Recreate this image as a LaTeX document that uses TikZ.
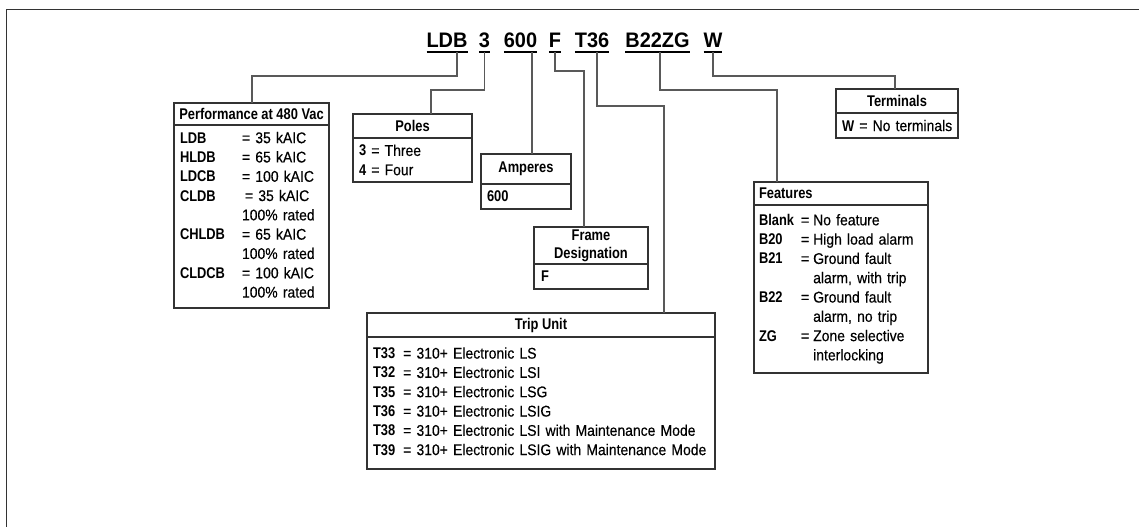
\documentclass[tikz,border=0pt]{standalone}
\usepackage{fontspec}
\setmainfont{Liberation Sans}[UprightFeatures={FakeStretch=0.9,FakeBold=0.3},BoldFeatures={FakeStretch=0.83}]
\newfontfamily\codefont{Liberation Sans}[BoldFeatures={FakeStretch=0.95}]
\usetikzlibrary{positioning}
\colorlet{boxline}{black!80}
\colorlet{linkline}{black!65}

\begin{document}
\begin{tikzpicture}[x=1pt, y=1pt, line width=1.1pt,
  every node/.style={inner sep=0pt, outer sep=0pt},
  hd/.style={draw=boxline, anchor=north west, align=center,
    font=\fontsize{15.5}{18}\selectfont\bfseries},
  bd/.style={draw=boxline, below=0pt of #1, align=left, inner xsep=6pt,
    font=\fontsize{15.5}{19.3}\selectfont},
  code/.style={anchor=base, text depth=4pt,
    font=\codefont\bfseries\fontsize{21}{24}\selectfont},
  link/.style={draw=linkline}]
  \useasboundingbox (0,0) rectangle (1139,-527);
  \draw[boxline, line width=1.3pt] (1139,-9.5) -- (6.5,-9.5) -- (6.5,-527);

  % catalog number
  \node[code] (cLDB)   at (447,-48)   {LDB};
  \node[code] (c3)     at (484.5,-48) {3};
  \node[code] (c600)   at (520.5,-48) {600};
  \node[code] (cF)     at (555,-48)   {F};
  \node[code] (cT36)   at (592,-48)   {T36};
  \node[code] (cB22ZG) at (657.5,-48) {B22ZG};
  \node[code] (cW)     at (713,-48)   {W};
  \foreach \c in {cLDB,c3,c600,cF,cT36,cB22ZG,cW}
    \draw[line width=1.6pt] (\c.south west) -- (\c.south east);

  % boxes
  \node[hd, minimum width=155, minimum height=22] (perfh) at (174,-103) {Performance at 480 Vac};
  \node[bd=perfh, text width=143, minimum height=183] (perf) {%
    \begin{tabular}{@{}l@{\hspace{17pt}}l@{}}
      \textbf{LDB}   & = 35 kAIC\\
      \textbf{HLDB}  & = 65 kAIC\\
      \textbf{LDCB}  & = 100 kAIC\\
      \textbf{CLDB}  & \hspace{3pt}= 35 kAIC\\
                     & 100\% rated\\
      \textbf{CHLDB} & = 65 kAIC\\
                     & 100\% rated\\
      \textbf{CLDCB} & = 100 kAIC\\
                     & 100\% rated
    \end{tabular}};

  \node[hd, minimum width=119, minimum height=24] (polesh) at (353,-114) {Poles};
  \node[bd=polesh, text width=107, minimum height=44] (poles) {\textbf{3} = Three\\\textbf{4} = Four};

  \node[hd, minimum width=90, minimum height=30] (amph) at (481,-154) {Amperes};
  \node[bd=amph, text width=78, minimum height=25] (amp) {\textbf{600}};

  \node[hd, minimum width=114, minimum height=37] (frameh) at (534,-227) {Frame\\Designation};
  \node[bd=frameh, text width=100, inner xsep=7pt, minimum height=25] (frame) {\textbf{F}};

  \node[hd, minimum width=348, minimum height=24] (triph) at (367,-313) {Trip Unit};
  \node[bd=triph, text width=336, minimum height=132] (trip) {%
    \begin{tabular}{@{}l@{\hspace{8pt}}l@{}}
      \textbf{T33} & = 310+ Electronic LS\\
      \textbf{T32} & = 310+ Electronic LSI\\
      \textbf{T35} & = 310+ Electronic LSG\\
      \textbf{T36} & = 310+ Electronic LSIG\\
      \textbf{T38} & = 310+ Electronic LSI with Maintenance Mode\\
      \textbf{T39} & = 310+ Electronic LSIG with Maintenance Mode
    \end{tabular}};

  \node[hd, minimum height=23, text width=164, inner xsep=5pt, align=left] (feath) at (754,-182) {Features};
  \node[bd=feath, text width=164, inner xsep=5pt, minimum height=168] (feat) {%
    \begin{tabular}{@{}l@{\hspace{7pt}}l@{\hspace{4pt}}l@{}}
      \textbf{Blank} & = & No feature\\
      \textbf{B20}   & = & High load alarm\\
      \textbf{B21}   & = & Ground fault\\
                     &   & alarm, with trip\\
      \textbf{B22}   & = & Ground fault\\
                     &   & alarm, no trip\\
      \textbf{ZG}    & = & Zone selective\\
                     &   & interlocking
    \end{tabular}};

  \node[hd, minimum width=122, minimum height=24] (termh) at (836,-89) {Terminals};
  \node[bd=termh, text width=110, minimum height=25] (term) {\mbox{\textbf{W} = No terminals}};

  % connectors
  \coordinate (kLDB)   at (252,-76);
  \coordinate (k3)     at (431,-90);
  \coordinate (k600)   at (532,-90);
  \coordinate (kF)     at (584,-71);
  \coordinate (kT36)   at (664,-106);
  \coordinate (kB22ZG) at (777,-90);
  \coordinate (kW)     at (895,-76);

  \draw[link] ([xshift=10pt]cLDB.south) |- (kLDB) -- (kLDB |- perfh.north);
  \draw[link] (c3.south) |- (k3) -- (k3 |- polesh.north);
  \draw[link] (k600 |- c600.south) -- (k600 |- amph.north);
  \draw[link] (cF.south) |- (kF) -- (kF |- frameh.north);
  \draw[link] ([xshift=5pt]cT36.south) |- (kT36) -- (kT36 |- triph.north);
  \draw[link] ([xshift=2.5pt]cB22ZG.south) |- (kB22ZG) -- (kB22ZG |- feath.north);
  \draw[link] (cW.south) |- (kW) -- (kW |- termh.north);
\end{tikzpicture}
\end{document}
